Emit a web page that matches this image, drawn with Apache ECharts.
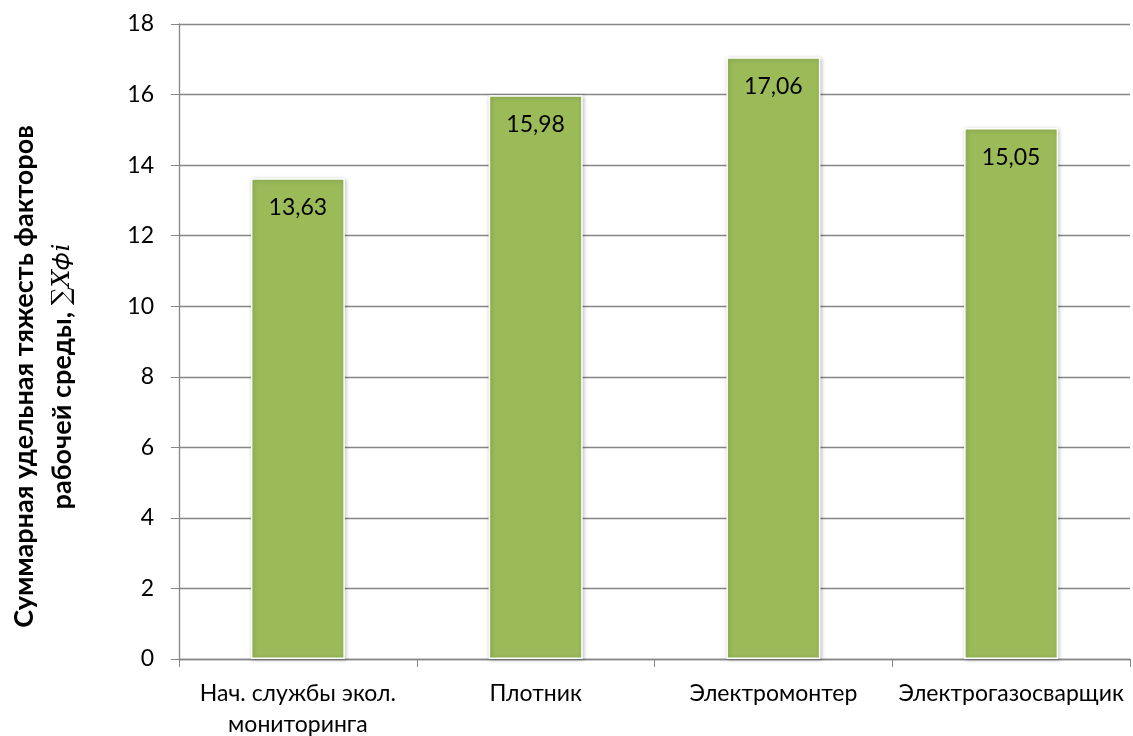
<!DOCTYPE html>
<html><head><meta charset="utf-8">
<script src="https://cdn.jsdelivr.net/npm/echarts@6/dist/echarts.min.js"></script>
<style>html,body{margin:0;padding:0;background:#fff}#c{width:1133px;height:736px}</style>
</head><body><div id="c"></div>
<script>
const categories = ['Нач. службы экол.\nмониторинга', 'Плотник', 'Электромонтер', 'Электрогазосварщик'];
const values = [13.63, 15.98, 17.06, 15.05];
const yTicks = {min: 0, max: 18, interval: 2};
const yTitleLine1 = 'Суммарная удельная тяжесть факторов';
const yTitleLine2 = 'рабочей среды, ';
const yTitleMath = '∑𝑋𝜙𝑖';
const FONT = 'Lato';
const chart = echarts.init(document.getElementById('c'));
chart.setOption({
  animation: false,
  grid: {left: 179, right: 3, top: 24, bottom: 77, outerBoundsMode: 'none', containLabel: false},
  xAxis: {
    type: 'category', data: categories,
    axisLine: {lineStyle: {color: '#868686', width: 1.3}},
    axisTick: {show: true, length: 8, lineStyle: {color: '#868686'}},
    axisLabel: {color: '#000', fontFamily: FONT, fontSize: 23, margin: 19, lineHeight: 31, interval: 0, hideOverlap: false}
  },
  yAxis: {
    type: 'value', min: yTicks.min, max: yTicks.max, interval: yTicks.interval,
    name: '{t|' + yTitleLine1 + '}\n{t|' + yTitleLine2 + '}{m|' + yTitleMath + '}',
    nameLocation: 'middle', nameRotate: 90, nameGap: 98,
    nameTextStyle: {color: '#000', fontFamily: FONT, fontSize: 27, fontWeight: 'bold', lineHeight: 38, padding: [0, 70, 0, 0],
      rich: {
        t: {color: '#000', fontFamily: FONT, fontSize: 27, fontWeight: 'bold', lineHeight: 38},
        m: {color: '#000', fontFamily: 'DejaVu Serif', fontSize: 25, fontWeight: 'normal', lineHeight: 38}
      }},
    axisLine: {show: true, lineStyle: {color: '#868686', width: 1.3}},
    axisTick: {show: true, length: 8, lineStyle: {color: '#868686'}},
    axisLabel: {color: '#000', fontFamily: FONT, fontSize: 23, margin: 25},
    splitLine: {lineStyle: {color: '#868686', width: 1.3}}
  },
  series: [{
    type: 'bar', data: values, barWidth: 94,
    itemStyle: {color: '#9BBB59', borderColor: '#fff', borderWidth: 1.5,
      shadowColor: 'rgba(0,0,0,0.25)', shadowBlur: 4, shadowOffsetX: 1, shadowOffsetY: 1},
    label: {show: true, position: 'insideTop', distance: 18, color: '#000', fontFamily: FONT, fontSize: 23,
      formatter: p => p.value.toFixed(2).replace('.', ',')}
  }]
});
</script></body></html>
